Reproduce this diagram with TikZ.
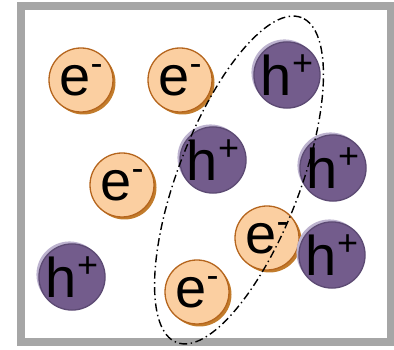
\documentclass[tikz,border=0pt]{standalone}
\usepackage{fontspec}
\setmainfont{Liberation Sans}
\usepackage{tikz}
\usetikzlibrary{shadows}
\definecolor{marco}{HTML}{A6A6A6}
\definecolor{naranjaClaro}{HTML}{FBCFA1}
\definecolor{naranjaBorde}{HTML}{B5651D}
\definecolor{naranjaSombra}{HTML}{C27C2C}
\definecolor{moradoHueco}{HTML}{735C8C}
\definecolor{moradoBorde}{HTML}{5C4A73}
\definecolor{moradoHalo}{HTML}{BDB3CF}
\newcommand{\carga}[1]{\raisebox{0.36em}{\fontsize{36}{36}\selectfont #1}}

\begin{document}
\begin{tikzpicture}[x=1pt, y=1pt,
    electron/.style={circle, draw=naranjaBorde, line width=1.3pt, fill=naranjaClaro,
                     minimum size=64pt, inner sep=0pt,
                     drop shadow={shadow xshift=2.5pt, shadow yshift=-2.5pt, fill=naranjaSombra, opacity=1},
                     font=\fontsize{56}{56}\selectfont},
    hole/.style={circle, draw=moradoBorde, line width=1.3pt, fill=moradoHueco,
                 minimum size=64pt, inner sep=0pt,
                 drop shadow={shadow xshift=-2.5pt, shadow yshift=2.5pt, fill=moradoHalo, opacity=1},
                 font=\fontsize{56}{56}\selectfont},
    par/.style={line width=1.4pt, dash pattern=on 8pt off 3.5pt on 1.4pt off 3.5pt}
  ]
  \useasboundingbox (0,0) rectangle (394,350);
  \draw[marco, line width=8pt] (21,8) rectangle (390.5,344);

  % electrones
  \node[electron] (e1) at (81,270) {e\carga{-}};
  \node[electron] (e2) at (180,270) {e\carga{-}};
  \node[electron] (e3) at (122,165) {e\carga{-}};
  \node[electron] (e4) at (267,112) {e\carga{-}};
  \node[electron] (e5) at (197,58) {e\carga{-}};

  % huecos
  \node[hole] (h1) at (287,275) {h\carga{+}};
  \node[hole] (h2) at (213,190) {h\carga{+}};
  \node[hole] (h3) at (333,182) {h\carga{+}};
  \node[hole] (h4) at (332,95) {h\carga{+}};
  \node[hole] (h5) at (72,73) {h\carga{+}};

  \draw[par, rotate around={69:(239,170)}] (239,170) ellipse [x radius=174pt, y radius=61pt];
\end{tikzpicture}
\end{document}
